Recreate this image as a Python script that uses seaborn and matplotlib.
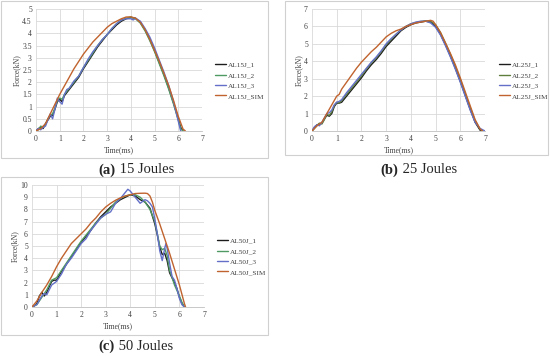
import matplotlib
matplotlib.use("Agg")
import matplotlib.pyplot as plt
import pandas as pd
import seaborn as sns
from matplotlib.patches import Rectangle

# ---- data: 15 J ----
t15_1 = [0, 0.1, 0.2, 0.3, 0.4, 0.5, 0.6, 0.7, 0.8, 0.9, 1.0, 1.1, 1.2, 1.4, 1.6, 1.8, 2.0, 2.2, 2.4, 2.6, 2.8, 3.0, 3.2, 3.4, 3.6, 3.8, 4.0, 4.2, 4.4, 4.6, 4.8, 5.0, 5.2, 5.4, 5.6, 5.8, 6.0, 6.1, 6.2]
f15_1 = [0, 0.1, 0.15, 0.1, 0.3, 0.45, 0.6, 0.65, 0.9, 1.2, 1.3, 1.2, 1.45, 1.7, 1.95, 2.2, 2.55, 2.85, 3.15, 3.45, 3.7, 3.95, 4.15, 4.35, 4.5, 4.6, 4.65, 4.62, 4.45, 4.15, 3.75, 3.3, 2.8, 2.3, 1.75, 1.15, 0.5, 0.15, 0]
t15_2 = [0, 0.1, 0.2, 0.3, 0.4, 0.5, 0.6, 0.7, 0.8, 0.9, 1.0, 1.1, 1.2, 1.4, 1.6, 1.8, 2.0, 2.2, 2.4, 2.6, 2.8, 3.0, 3.2, 3.4, 3.6, 3.8, 4.0, 4.2, 4.4, 4.6, 4.8, 5.0, 5.2, 5.4, 5.6, 5.8, 6.0, 6.1, 6.2]
f15_2 = [0, 0.05, 0.2, 0.15, 0.25, 0.5, 0.65, 0.7, 0.95, 1.25, 1.35, 1.3, 1.5, 1.75, 2.0, 2.25, 2.6, 2.9, 3.2, 3.5, 3.75, 3.95, 4.2, 4.4, 4.55, 4.62, 4.67, 4.6, 4.42, 4.1, 3.7, 3.25, 2.75, 2.25, 1.7, 1.1, 0.45, 0.1, 0]
t15_3 = [0, 0.1, 0.2, 0.3, 0.4, 0.5, 0.6, 0.7, 0.8, 0.9, 1.0, 1.1, 1.2, 1.3, 1.4, 1.6, 1.8, 2.0, 2.2, 2.4, 2.6, 2.8, 3.0, 3.2, 3.4, 3.6, 3.8, 4.0, 4.1, 4.2, 4.4, 4.6, 4.8, 5.0, 5.2, 5.4, 5.6, 5.8, 6.0, 6.1]
f15_3 = [0, 0.1, 0.05, 0.15, 0.2, 0.45, 0.7, 0.5, 0.9, 1.35, 1.2, 1.1, 1.5, 1.7, 1.75, 2.05, 2.25, 2.6, 2.95, 3.25, 3.5, 3.75, 3.95, 4.2, 4.4, 4.55, 4.6, 4.6, 4.55, 4.62, 4.5, 4.2, 3.85, 3.4, 2.9, 2.4, 1.85, 1.2, 0.4, 0]
t15_s = [0, 0.2, 0.4, 0.6, 0.8, 1.0, 1.2, 1.4, 1.6, 1.8, 2.0, 2.2, 2.4, 2.6, 2.8, 3.0, 3.2, 3.4, 3.6, 3.8, 4.0, 4.2, 4.4, 4.6, 4.8, 5.0, 5.2, 5.4, 5.6, 5.8, 6.0, 6.2, 6.3]
f15_s = [0, 0.1, 0.3, 0.7, 1.1, 1.5, 1.85, 2.2, 2.55, 2.85, 3.15, 3.4, 3.65, 3.85, 4.05, 4.25, 4.4, 4.5, 4.6, 4.67, 4.68, 4.62, 4.45, 4.15, 3.75, 3.3, 2.85, 2.35, 1.85, 1.25, 0.6, 0.08, 0]

# ---- data: 25 J ----
t25_1 = [0, 0.1, 0.2, 0.3, 0.4, 0.5, 0.6, 0.7, 0.8, 0.9, 1.0, 1.1, 1.2, 1.4, 1.6, 1.8, 2.0, 2.2, 2.4, 2.6, 2.8, 3.0, 3.2, 3.4, 3.6, 3.8, 4.0, 4.2, 4.4, 4.6, 4.8, 5.0, 5.2, 5.4, 5.6, 5.8, 6.0, 6.2, 6.4, 6.6, 6.8, 6.85]
f25_1 = [0, 0.2, 0.35, 0.4, 0.45, 0.7, 0.9, 0.85, 1.0, 1.4, 1.6, 1.6, 1.65, 2.0, 2.35, 2.7, 3.05, 3.45, 3.8, 4.1, 4.45, 4.85, 5.15, 5.45, 5.75, 5.95, 6.1, 6.2, 6.25, 6.3, 6.25, 6.0, 5.55, 4.95, 4.3, 3.6, 2.85, 2.05, 1.25, 0.5, 0.05, 0]
t25_2 = [0, 0.1, 0.2, 0.3, 0.4, 0.5, 0.6, 0.7, 0.8, 0.9, 1.0, 1.1, 1.2, 1.4, 1.6, 1.8, 2.0, 2.2, 2.4, 2.6, 2.8, 3.0, 3.2, 3.4, 3.6, 3.8, 4.0, 4.2, 4.4, 4.6, 4.8, 5.0, 5.2, 5.4, 5.6, 5.8, 6.0, 6.2, 6.4, 6.6, 6.8, 6.9]
f25_2 = [0, 0.15, 0.3, 0.45, 0.4, 0.65, 0.95, 0.9, 1.1, 1.45, 1.65, 1.6, 1.75, 2.1, 2.45, 2.8, 3.15, 3.55, 3.9, 4.2, 4.55, 4.95, 5.25, 5.55, 5.8, 6.0, 6.15, 6.22, 6.28, 6.32, 6.3, 6.1, 5.65, 5.05, 4.4, 3.7, 2.95, 2.15, 1.35, 0.6, 0.1, 0]
t25_3 = [0, 0.1, 0.2, 0.3, 0.4, 0.5, 0.6, 0.7, 0.8, 0.9, 1.0, 1.1, 1.2, 1.4, 1.6, 1.8, 2.0, 2.2, 2.4, 2.6, 2.8, 3.0, 3.2, 3.4, 3.6, 3.8, 4.0, 4.2, 4.4, 4.6, 4.8, 5.0, 5.2, 5.4, 5.6, 5.8, 6.0, 6.2, 6.4, 6.6, 6.8, 7.0]
f25_3 = [0, 0.25, 0.35, 0.3, 0.5, 0.75, 1.0, 1.05, 1.2, 1.5, 1.65, 1.7, 1.8, 2.2, 2.55, 2.9, 3.25, 3.6, 3.95, 4.25, 4.6, 5.0, 5.3, 5.55, 5.8, 6.0, 6.15, 6.25, 6.3, 6.3, 6.2, 5.95, 5.5, 4.9, 4.25, 3.55, 2.8, 2.0, 1.2, 0.5, 0.15, 0]
t25_s = [0, 0.2, 0.4, 0.6, 0.8, 1.0, 1.1, 1.2, 1.4, 1.6, 1.8, 2.0, 2.2, 2.4, 2.6, 2.8, 3.0, 3.2, 3.4, 3.6, 3.8, 4.0, 4.2, 4.4, 4.6, 4.8, 4.9, 5.0, 5.2, 5.4, 5.6, 5.8, 6.0, 6.2, 6.4, 6.6, 6.8, 6.9]
f25_s = [0, 0.3, 0.5, 1.0, 1.5, 2.0, 2.1, 2.4, 2.8, 3.2, 3.6, 3.95, 4.25, 4.55, 4.8, 5.1, 5.4, 5.6, 5.75, 5.85, 6.0, 6.1, 6.2, 6.25, 6.3, 6.35, 6.3, 6.1, 5.65, 5.05, 4.45, 3.8, 3.05, 2.25, 1.45, 0.65, 0.12, 0]

# ---- data: 50 J ----
t50_1 = [0, 0.1, 0.2, 0.3, 0.4, 0.5, 0.6, 0.8, 0.9, 1.0, 1.2, 1.4, 1.6, 1.8, 2.0, 2.2, 2.4, 2.6, 2.8, 3.0, 3.2, 3.4, 3.6, 3.8, 4.0, 4.2, 4.4, 4.6, 4.8, 5.0, 5.1, 5.2, 5.3, 5.4, 5.5, 5.6, 5.8, 5.9, 6.0, 6.1, 6.2]
f50_1 = [0, 0.1, 0.3, 0.9, 1.2, 0.9, 1.2, 2.1, 2.2, 2.2, 2.9, 3.5, 4.1, 4.7, 5.3, 5.8, 6.3, 6.9, 7.4, 7.8, 8.2, 8.5, 8.8, 9.0, 9.2, 9.1, 8.8, 8.6, 8.1, 6.8, 5.9, 4.9, 4.3, 4.4, 3.8, 2.8, 2.0, 1.5, 0.8, 0.3, 0]
t50_2 = [0, 0.2, 0.4, 0.6, 0.8, 1.0, 1.2, 1.4, 1.6, 1.8, 2.0, 2.2, 2.4, 2.6, 2.8, 3.0, 3.2, 3.4, 3.6, 3.8, 4.0, 4.2, 4.4, 4.6, 4.8, 5.0, 5.1, 5.2, 5.3, 5.4, 5.5, 5.6, 5.8, 6.0, 6.1, 6.2]
f50_2 = [0, 0.2, 0.8, 1.4, 2.2, 2.4, 3.0, 3.6, 4.2, 4.8, 5.4, 5.9, 6.4, 6.9, 7.3, 7.6, 8.1, 8.6, 8.9, 9.1, 9.2, 9.2, 9.0, 8.6, 8.0, 7.0, 6.0, 5.0, 4.7, 4.8, 4.2, 3.0, 1.8, 0.9, 0.4, 0]
t50_3 = [0, 0.2, 0.4, 0.5, 0.6, 0.8, 1.0, 1.2, 1.4, 1.6, 1.8, 2.0, 2.2, 2.4, 2.6, 2.8, 3.0, 3.2, 3.4, 3.6, 3.8, 3.9, 4.0, 4.2, 4.4, 4.6, 4.7, 4.8, 4.9, 5.0, 5.1, 5.2, 5.3, 5.4, 5.45, 5.5, 5.6, 5.7, 5.8, 5.9, 6.0, 6.1, 6.2]
f50_3 = [0, 0.2, 0.9, 1.1, 1.0, 1.8, 2.1, 2.7, 3.5, 4.0, 4.6, 5.2, 5.6, 6.3, 6.8, 7.3, 7.6, 7.8, 8.5, 8.9, 9.4, 9.65, 9.5, 9.0, 8.5, 8.8, 8.7, 8.5, 8.2, 7.2, 6.0, 4.6, 3.8, 4.8, 5.2, 4.8, 3.6, 2.5, 2.2, 1.5, 0.7, 0.2, 0]
t50_s = [0, 0.2, 0.4, 0.6, 0.8, 1.0, 1.2, 1.4, 1.6, 1.8, 2.0, 2.2, 2.4, 2.6, 2.8, 3.0, 3.2, 3.4, 3.6, 3.8, 4.0, 4.2, 4.4, 4.6, 4.7, 4.8, 4.9, 5.0, 5.2, 5.4, 5.6, 5.8, 6.0, 6.2, 6.25]
f50_s = [0, 0.5, 1.2, 1.8, 2.5, 3.3, 4.0, 4.6, 5.2, 5.6, 6.0, 6.4, 6.9, 7.3, 7.8, 8.2, 8.5, 8.75, 8.95, 9.1, 9.2, 9.3, 9.32, 9.33, 9.3, 9.1, 8.6, 7.9, 6.8, 5.6, 4.4, 3.1, 1.8, 0.3, 0]

panels = [
    ("15", [t15_1, t15_2, t15_3, t15_s], [f15_1, f15_2, f15_3, f15_s], 5, 0.5, "#4f9a62"),
    ("25", [t25_1, t25_2, t25_3, t25_s], [f25_1, f25_2, f25_3, f25_s], 7, 1, "#5e7f3c"),
    ("50", [t50_1, t50_2, t50_3, t50_s], [f50_1, f50_2, f50_3, f50_s], 10, 1, "#4f9a62"),
]
letters = ["a", "b", "c"]

W, H = 550, 356
sns.set_style("white")
plt.rcParams["font.family"] = ["Liberation Serif", "DejaVu Serif"]

fig = plt.figure(figsize=(W / 100, H / 100), dpi=100)

# pixel layouts: plot area (x0, x7, ybottom, ytop), panel box, caption centre, legend anchor
ax_px = [(36, 202, 131, 9), (312, 485, 131, 9), (32, 204, 307, 185)]
box_px = [(1, 1, 268, 158), (285, 1, 548, 155), (1, 177, 268, 335)]
cap_px = [(135, 170), (417, 170), (135, 346)]
leg_px = [(209, 56), (493, 56), (211, 232)]


def fx(x):
    return x / W


def fy(y):
    return 1 - y / H


for i, (energy, ts, fs, ymax, ystep, green) in enumerate(panels):
    names = [f"AL{energy}J_1", f"AL{energy}J_2", f"AL{energy}J_3", f"AL{energy}J_SIM"]
    colors = ["#1c1c1c", green, "#6470c8", "#c0632e"]
    rows = []
    for n, t, f in zip(names, ts, fs):
        rows.append(pd.DataFrame({"Time": t, "Force": f, "Series": n}))
    df = pd.concat(rows, ignore_index=True)

    x0, x7, yb, yt = ax_px[i]
    ax = fig.add_axes([fx(x0), fy(yb), fx(x7 - x0), (yb - yt) / H])

    # panel frame
    bx0, by0, bx1, by1 = box_px[i]
    fig.patches.append(Rectangle((fx(bx0), fy(by1)), fx(bx1 - bx0), (by1 - by0) / H,
                                 transform=fig.transFigure, fill=False,
                                 edgecolor="#d0d0d0", linewidth=0.8, zorder=0))

    sns.lineplot(data=df, x="Time", y="Force", hue="Series", hue_order=names,
                 palette=colors, sort=False, estimator=None, linewidth=1.0, ax=ax)

    ax.set_xlim(0, 7)
    ax.set_ylim(0, ymax)
    ax.set_xticks(range(0, 8))
    yt_vals = [k * ystep for k in range(int(round(ymax / ystep)) + 1)]
    ax.set_yticks(yt_vals)
    ax.set_yticklabels([f"{v:g}" for v in yt_vals])
    ax.grid(True, color="#d9d9d9", linewidth=0.6)
    for s in ["top", "right", "left"]:
        ax.spines[s].set_visible(False)
    ax.spines["bottom"].set_color("#bfbfbf")
    ax.spines["bottom"].set_linewidth(0.6)
    ax.tick_params(length=0, labelsize=5.5, pad=3, colors="#404040")
    ax.set_xlabel("Time(ms)", fontsize=5.5, color="#404040", labelpad=2)
    ax.set_ylabel("Force(kN)", fontsize=5.5, color="#404040", labelpad=1)

    lx, ly = leg_px[i]
    ax.legend(loc="upper left", bbox_to_anchor=(fx(lx), fy(ly)),
              bbox_transform=fig.transFigure, frameon=False, fontsize=5.2,
              handlelength=1.6, handletextpad=0.25, labelspacing=0.6,
              borderpad=0.3, labelcolor="#404040")

    cx, cy = cap_px[i]
    t1 = fig.text(fx(cx) - 0.066, fy(cy), f"({letters[i]})", fontsize=10.5,
                  fontweight="bold", va="center", ha="left")
    ax.annotate(f" {energy} Joules", xy=(1, 0.5), xycoords=t1, fontsize=10.5,
                va="center", ha="left", annotation_clip=False)

fig.savefig("out.png", dpi=100)
